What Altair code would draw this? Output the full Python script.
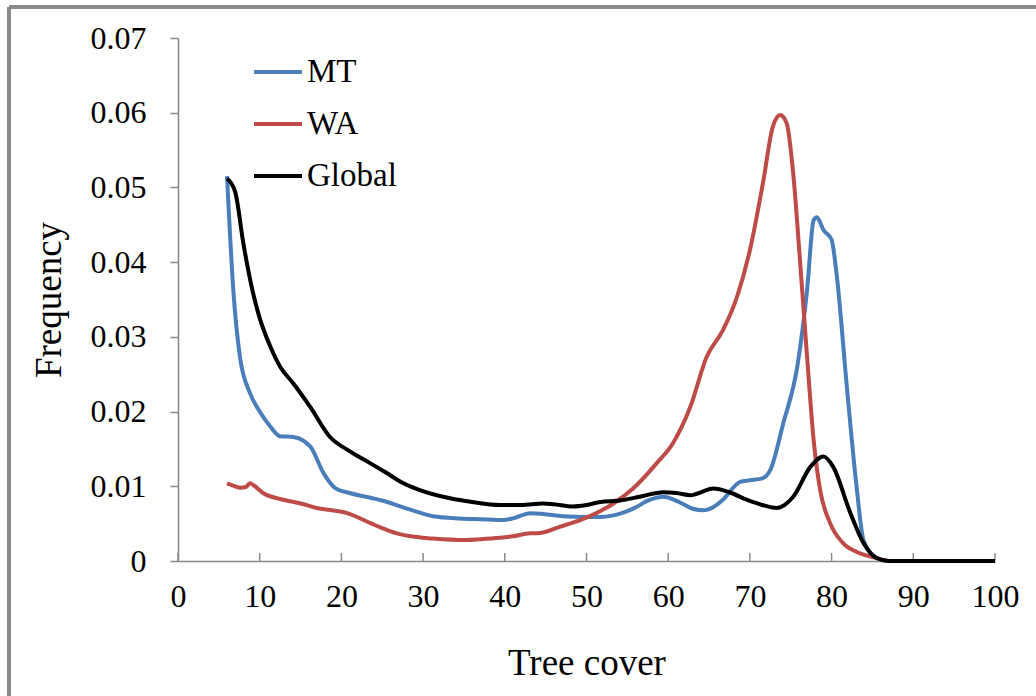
import altair as alt
import pandas as pd

# ---- data ----
mt_x = [6, 6.8, 7.6, 8.8, 10, 11.3, 12.5, 14.1, 16.2, 17.8, 19.2, 21, 23, 25.6, 27.2, 29.2,
        31.2, 34.5, 37, 39.8, 41, 43.1, 44.7, 47.1, 50, 51.7, 53.7, 55.7, 57.8, 59.4, 61.5,
        63, 64.3, 65.5, 66.7, 68.8, 70, 71.6, 72.5, 74.1, 75.8, 77, 77.8, 78.2, 79, 80, 80.6,
        81.9, 83.1, 83.9, 85.5, 87, 100]
mt_y = [0.0515, 0.0358, 0.0272, 0.0225, 0.0200, 0.0180, 0.0167, 0.0166, 0.0153, 0.0118, 0.0098,
        0.0091, 0.0086, 0.0079, 0.0073, 0.0066, 0.0060, 0.0057, 0.0056, 0.0055, 0.0057, 0.0064,
        0.0063, 0.0060, 0.0059, 0.0059, 0.0062, 0.0070, 0.0082, 0.0086, 0.0078, 0.0070, 0.0068,
        0.0072, 0.0082, 0.0106, 0.0108, 0.0111, 0.0122, 0.0185, 0.0260, 0.0363, 0.0456, 0.0460,
        0.0443, 0.0430, 0.0385, 0.0229, 0.0095, 0.0028, 0.0004, 0.0, 0.0]

wa_x = [6, 7, 7.6, 8.3, 8.8, 9.3, 10.4, 12.9, 15, 17, 20.7, 23.5, 25, 26.8, 29.2, 31.2, 35.3,
        37, 39.4, 41, 43.1, 44, 46.8, 50, 53.3, 55.7, 58.6, 60.6, 62.7, 64.7, 66.7, 68.4, 70,
        71.6, 72.8, 73.7, 74.5, 75.3, 76.1, 77, 77.8, 78.6, 79.8, 81.4, 83.1, 85.5, 87, 100]
wa_y = [0.0104, 0.0100, 0.0098, 0.0099, 0.0104, 0.0101, 0.0091, 0.0082, 0.0077, 0.0071, 0.0064,
        0.0051, 0.0044, 0.0037, 0.0032, 0.0030, 0.0028, 0.0029, 0.0031, 0.0033, 0.0037, 0.0037,
        0.0046, 0.0058, 0.0077, 0.0097, 0.0131, 0.0158, 0.0206, 0.0273, 0.0309, 0.0353, 0.0416,
        0.0506, 0.0581, 0.0597, 0.0586, 0.0519, 0.0407, 0.0273, 0.0162, 0.0095, 0.0051, 0.0024,
        0.0012, 0.0004, 0.0, 0.0]

gl_x = [6, 7, 8, 9.2, 10, 11.3, 12.5, 14.1, 16.2, 18.6, 20.7, 23.5, 25.5, 27.6, 29.6, 33.3, 36,
        39.4, 42, 44.7, 46, 48.3, 50, 51.7, 54.1, 56.5, 59.4, 61, 62.7, 63.5, 65.5, 67.5, 69.6,
        71.5, 73.3, 75.3, 77.4, 79, 80.2, 82.3, 83.9, 85.5, 87, 100]
gl_y = [0.0512, 0.0494, 0.0425, 0.0358, 0.0325, 0.0287, 0.0260, 0.0238, 0.0206, 0.0166, 0.0149,
        0.0131, 0.0118, 0.0104, 0.0095, 0.0084, 0.0079, 0.0075, 0.0075, 0.0077, 0.0076, 0.0073,
        0.0075, 0.0079, 0.0081, 0.0086, 0.0092, 0.0091, 0.0088, 0.0090, 0.0097, 0.0092, 0.0082,
        0.0075, 0.0071, 0.0086, 0.0126, 0.0140, 0.0126, 0.0064, 0.0024, 0.0004, 0.0, 0.0]

series_names = ["MT", "WA", "Global"]
series_colors = ["#4A7EBB", "#BE4B48", "#000000"]
x_ticks = [0, 10, 20, 30, 40, 50, 60, 70, 80, 90, 100]
y_ticks = [0, 0.01, 0.02, 0.03, 0.04, 0.05, 0.06, 0.07]

rows = []
for order, (name, xs, ys) in enumerate(zip(series_names, [mt_x, wa_x, gl_x], [mt_y, wa_y, gl_y])):
    for xv, yv in zip(xs, ys):
        rows.append({"x": xv, "y": yv, "series": name, "order": order})
df = pd.DataFrame(rows)
ticks_df = pd.DataFrame({"x": x_ticks})

FONT = "Liberation Serif"
GRAY = "#898989"

x_enc = alt.X("x:Q", scale=alt.Scale(domain=[0, 100], nice=False),
              axis=alt.Axis(values=x_ticks, ticks=False, labelPadding=20, labelFontSize=32,
                            labelFont=FONT, labelColor="black", labelFlush=False,
                            labelOverlap=False, domainColor=GRAY, domainWidth=1.5,
                            grid=False, title="Tree cover", titleFont=FONT, titleFontSize=37,
                            titleFontWeight="normal", titleColor="black", titleY=113,
                            titleBaseline="alphabetic"))

lines = alt.Chart(df).mark_line(strokeWidth=4, interpolate="monotone").encode(
    x=x_enc,
    y=alt.Y("y:Q", scale=alt.Scale(domain=[0, 0.07], nice=False),
            axis=alt.Axis(values=y_ticks, format=".2~f", tickSize=8, tickColor=GRAY, tickWidth=1.5,
                          labelPadding=24, labelFontSize=32, labelFont=FONT, labelColor="black",
                          labelFlush=False, labelOverlap=False,
                          domainColor=GRAY, domainWidth=1.5, grid=False, title="Frequency",
                          titleFont=FONT, titleFontSize=37, titleFontWeight="normal",
                          titleColor="black", titleX=-118, titleY=261.5, titleAngle=-90,
                          titleBaseline="alphabetic")),
    color=alt.Color("series:N", scale=alt.Scale(domain=series_names, range=series_colors),
                    legend=alt.Legend(title=None, orient="none", legendX=74, legendY=8,
                                      symbolType="stroke", symbolSize=2304, symbolStrokeWidth=4,
                                      labelFont=FONT, labelFontSize=33, labelColor="black",
                                      labelOffset=3, rowPadding=9, padding=0)),
    order=alt.Order("order:Q"),
    detail="series:N",
)

xticks = alt.Chart(ticks_df).mark_rule(color=GRAY, strokeWidth=1.5).encode(
    x=x_enc, y=alt.value(523), y2=alt.value(515)
)

border_top = alt.Chart(ticks_df).mark_rule(color=GRAY, strokeWidth=3).encode(
    x=alt.value(-169), x2=alt.value(900), y=alt.value(-31)
)
border_left = alt.Chart(ticks_df).mark_rule(color=GRAY, strokeWidth=3).encode(
    x=alt.value(-169), y=alt.value(-31), y2=alt.value(700)
)

chart = alt.layer(border_top, border_left, xticks, lines).properties(
    width=817, height=523,
    background="white",
    padding={"left": 178, "top": 38, "right": 41, "bottom": 135},
    autosize=alt.AutoSizeParams(type="none"),
).configure_view(stroke=None)

chart.save("out.html", embed_options={"renderer": "svg", "actions": False})
